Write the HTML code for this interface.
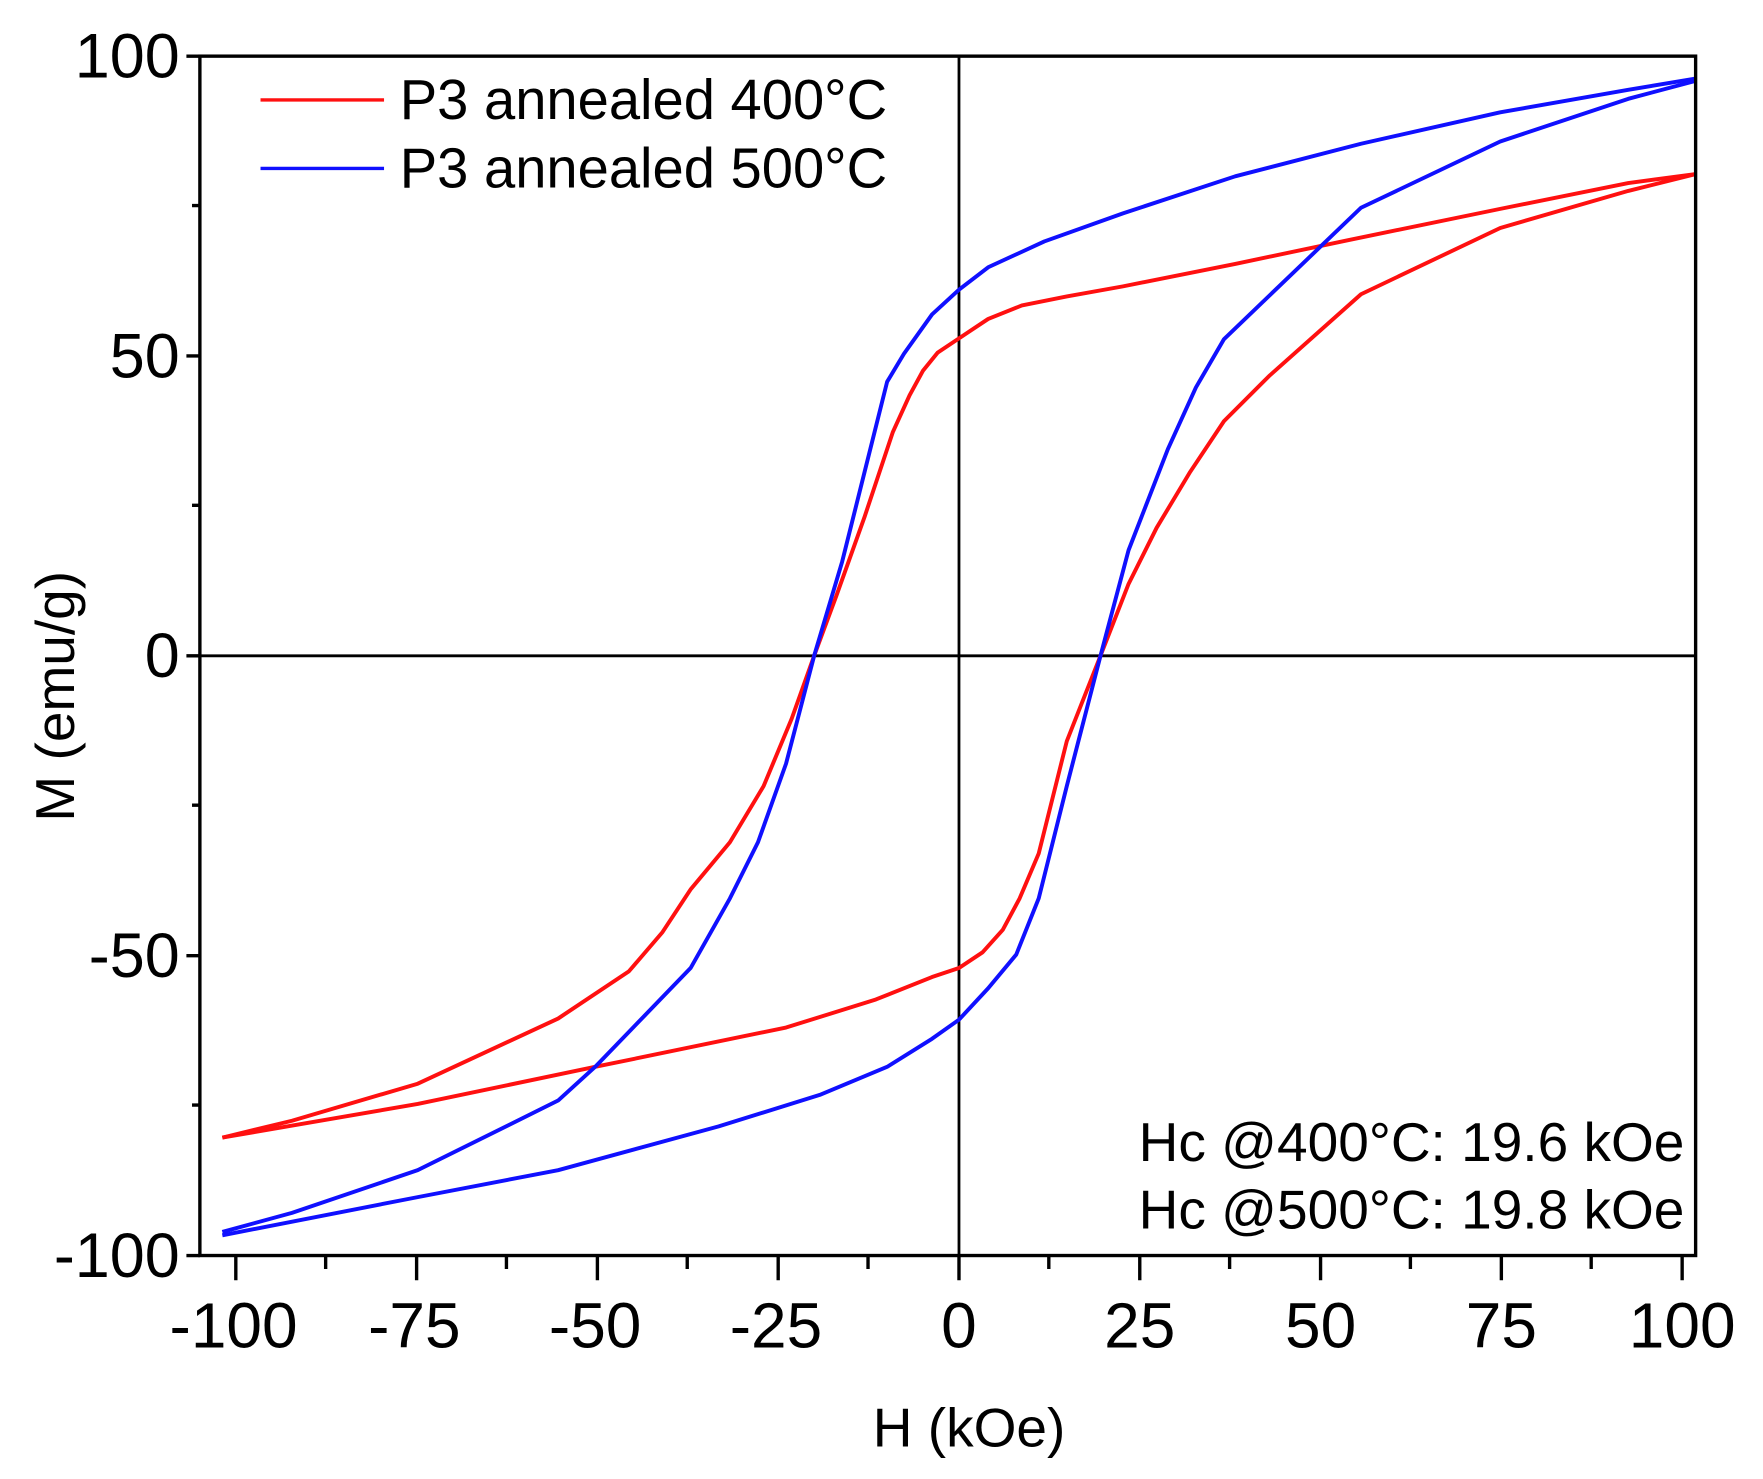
<!DOCTYPE html>
<html><head><meta charset="utf-8"><style>html,body{margin:0;padding:0;background:#fff}svg{display:block}</style></head><body>
<svg width="1763" height="1479" viewBox="0 0 1570 1317" preserveAspectRatio="none" xmlns="http://www.w3.org/2000/svg" font-family="Liberation Sans, sans-serif">
<rect width="1570" height="1317" fill="#fff"/>
<g stroke="#000" stroke-width="2.5" fill="none">
<line x1="854" y1="50" x2="854" y2="1118"/>
<line x1="178" y1="584" x2="1510" y2="584"/>
</g>
<g fill="none" stroke-width="3.5" stroke-linejoin="round">
<polyline stroke="#ff1010" points="1510,155 1450,163 1336,186 1200,214 1100,235 1000,255 950,264 910,272 880,284 862,296 850,304 835,314 822,330 810,352 795,385 770,460 745,530 725,584 705,640 680,700 650,750 615,792 590,830 560,865 497,907 372,965 260,998 198,1013"/>
<polyline stroke="#ff1010" points="198,1013 372,983 530,950 700,915 780,890 830,870 854,862 875,848 893,828 908,800 925,760 950,660 980,584 1005,520 1030,470 1060,420 1090,375 1130,335 1212,262 1336,203 1450,170 1510,155"/>
<polyline stroke="#1010ff" points="1510,70 1450,80 1336,100 1212,128 1100,157 1000,190 930,215 880,238 854,258 830,280 805,315 790,340 770,420 750,500 725,584 700,680 675,750 650,800 615,862 530,950 497,980 372,1042 260,1080 198,1097"/>
<polyline stroke="#1010ff" points="198,1100 372,1066 497,1042 640,1003 730,975 790,950 830,925 854,908 880,880 905,850 925,800 950,700 980,584 1005,490 1040,400 1065,345 1090,302 1212,185 1336,126 1450,88 1510,72"/>
</g>
<g stroke="#000" stroke-width="3" fill="none">
<rect x="178" y="50" width="1332" height="1068"/>
<path d="M210,1118v22 M371,1118v22 M532,1118v22 M693,1118v22 M854,1118v22 M1015,1118v22 M1176,1118v22 M1337,1118v22 M1498,1118v22 M290,1118v12 M451,1118v12 M612,1118v12 M773,1118v12 M934,1118v12 M1095,1118v12 M1256,1118v12 M1417,1118v12"/>
<path d="M178,50h-12 M178,317h-12 M178,584h-12 M178,851h-12 M178,1118h-12 M178,183h-7 M178,450h-7 M178,717h-7 M178,984h-7"/>
</g>
<g font-size="57" text-anchor="middle" fill="#000">
<text x="208" y="1200">-100</text><text x="369" y="1200">-75</text><text x="530" y="1200">-50</text><text x="691" y="1200">-25</text><text x="854" y="1200">0</text><text x="1015" y="1200">25</text><text x="1176" y="1200">50</text><text x="1337" y="1200">75</text><text x="1498" y="1200">100</text>
</g>
<g font-size="56" text-anchor="end" fill="#000">
<text x="160" y="69">100</text><text x="160" y="336">50</text><text x="160" y="603">0</text><text x="160" y="870">-50</text><text x="160" y="1137">-100</text>
</g>
<text x="863" y="1288" font-size="49" text-anchor="middle">H (kOe)</text>
<text transform="translate(66,620) rotate(-90)" font-size="49" text-anchor="middle">M (emu/g)</text>
<line x1="232" y1="89" x2="342" y2="89" stroke="#ff1010" stroke-width="3"/>
<line x1="232" y1="150" x2="342" y2="150" stroke="#1010ff" stroke-width="3"/>
<text x="356" y="106" font-size="50">P3 annealed 400°C</text>
<text x="356" y="167" font-size="50">P3 annealed 500°C</text>
<text x="1500" y="1034" font-size="49" text-anchor="end">Hc @400°C: 19.6 kOe</text>
<text x="1500" y="1094" font-size="49" text-anchor="end">Hc @500°C: 19.8 kOe</text>
</svg>
</body></html>
